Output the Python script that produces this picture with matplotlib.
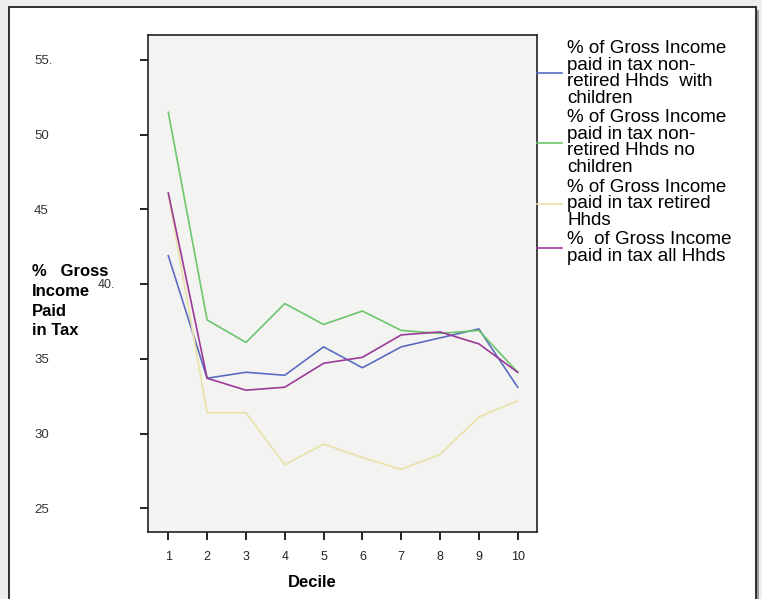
import matplotlib
matplotlib.use("Agg")
import matplotlib.pyplot as plt
from matplotlib.patches import Rectangle
import matplotlib.transforms as mtransforms

plt.rcParams['font.family'] = ['Liberation Sans', 'DejaVu Sans']

deciles = [1, 2, 3, 4, 5, 6, 7, 8, 9, 10]
with_children = [41.9, 33.7, 34.1, 33.9, 35.8, 34.4, 35.8, 36.4, 37.0, 33.1]
no_children = [51.5, 37.6, 36.1, 38.7, 37.3, 38.2, 36.9, 36.7, 36.9, 34.1]
retired = [46.0, 31.4, 31.4, 27.9, 29.3, 28.4, 27.6, 28.6, 31.1, 32.2]
all_hhds = [46.1, 33.7, 32.9, 33.1, 34.7, 35.1, 36.6, 36.8, 36.0, 34.1]

labels = [
    "% of Gross Income\npaid in tax non-\nretired Hhds  with\nchildren",
    "% of Gross Income\npaid in tax non-\nretired Hhds no\nchildren",
    "% of Gross Income\npaid in tax retired\nHhds",
    "%  of Gross Income\npaid in tax all Hhds",
]
colors = ['#5a6cc2', '#6cc66c', '#e8e2a8', '#9b3a99']
yticks = [25, 30, 35, 40, 45, 50, 55]
ytick_labels = ['25', '30', '35', '', '45', '50', '55.']

fig = plt.figure(figsize=(7.62, 5.99), dpi=100)
fig.patch.set_facecolor('#eeeeee')
# page frame with shadow
fig.patches.append(Rectangle((12 / 762, -0.05), 747 / 762, 1 - 10 / 599 + 0.05,
                             transform=fig.transFigure, fc='#9a9a9a', ec='none', zorder=-5))
fig.patches.append(Rectangle((9 / 762, -0.05), 747 / 762, 1 - 7 / 599 + 0.05,
                             transform=fig.transFigure, fc='white', ec='#222222', lw=1.3, zorder=-4))

ax = fig.add_axes([148 / 762, 67 / 599, 388.7 / 762, 497 / 599])
ax.set_facecolor('#f3f3f1')

series = [with_children, no_children, retired, all_hhds]
for vals, lab, c in zip(series, labels, colors):
    ax.plot(deciles, vals, color=c, lw=1.2, label=lab)

ax.set_xlim(0.477, 10.49)
ax.set_ylim(23.41, 56.67)
ax.set_xticks(deciles)
ax.set_xticklabels([str(d) for d in deciles], fontsize=9, color='#222222')
ax.set_yticks(yticks)
ax.set_yticklabels(ytick_labels, fontsize=9.5, color='#333333', ha='left')
ax.tick_params(axis='y', length=6, width=1.2, pad=76)
ax.tick_params(axis='x', length=6, width=1.2, pad=7.5)
for s in ax.spines.values():
    s.set_linewidth(1.2)
    s.set_color('#222222')

# the "40." label sits beside the axis title
trans = mtransforms.blended_transform_factory(fig.transFigure, ax.transData)
ax.text(98 / 762, 39.93, '40.', transform=trans, fontsize=9, color='#333333',
        ha='left', va='center')

fig.text(32 / 762, 1 - 264 / 599, '%   Gross\nIncome\nPaid\nin Tax', fontsize=12,
         fontweight='bold', ha='left', va='top', linespacing=1.4)
ax.set_xlabel('Decile', fontsize=12, fontweight='bold')
ax.xaxis.set_label_coords(0.422, -0.087)

leg = ax.legend(loc='upper left', bbox_to_anchor=(1.0, 0.99), frameon=False,
                fontsize=13.5, handlelength=1.35, handletextpad=0.28,
                borderaxespad=0, borderpad=0, labelspacing=0.13)
for t in leg.get_texts():
    t.set_linespacing(0.97)

fig.savefig('out.png', dpi=100, facecolor=fig.get_facecolor())
